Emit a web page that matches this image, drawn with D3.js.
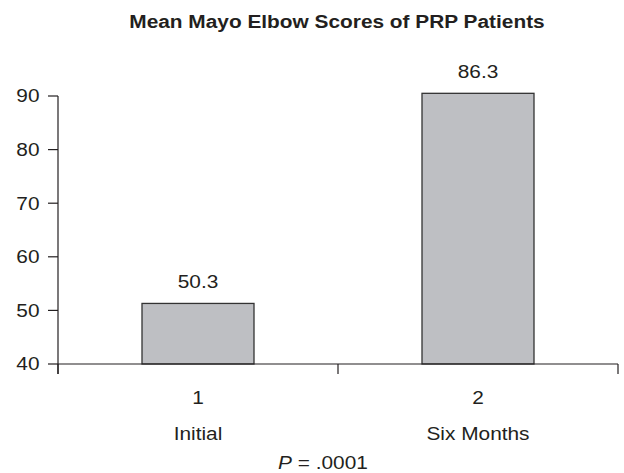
<!DOCTYPE html>
<html><head><meta charset="utf-8">
<script src="https://cdn.jsdelivr.net/npm/d3@7"></script>
<style>body{margin:0;background:#fff;} text{font-family:"Liberation Sans",Arial,sans-serif;fill:#231f20;}</style>
</head><body>
<svg id="c" width="624" height="473"></svg>
<script>
const categories = ["1", "2"];
const categoryNames = ["Initial", "Six Months"];
const values = [51.3, 90.5];
const valueLabels = ["50.3", "86.3"];
const yTicks = [40, 50, 60, 70, 80, 90];
const title = "Mean Mayo Elbow Scores of PRP Patients";

const STRETCH = 1.14;
const FS = "18.3px";
function stretch(sel) {
  sel.each(function () {
    const w = this.getComputedTextLength();
    d3.select(this).attr("textLength", w * STRETCH).attr("lengthAdjust", "spacingAndGlyphs");
  });
}

const svg = d3.select("#c");
const x = d3.scaleBand().domain(categories).range([58, 618]).paddingInner(0.6).paddingOuter(0.3);
const y = d3.scaleLinear().domain([40, 90]).range([364, 96]);
const ink = "#231f20";

svg.append("text").attr("x", 337).attr("y", 27.5).attr("text-anchor", "middle")
  .style("font-weight", "bold").style("font-size", FS).text(title).call(stretch);

// bars
svg.selectAll("rect.bar").data(values).join("rect").attr("class", "bar")
  .attr("x", (d, i) => x(categories[i])).attr("width", x.bandwidth())
  .attr("y", d => y(d)).attr("height", d => y(40) - y(d))
  .attr("fill", "#bebfc3").attr("stroke", "#333").attr("stroke-width", 1.3);

svg.selectAll("text.vl").data(values).join("text").attr("class", "vl")
  .attr("x", (d, i) => x(categories[i]) + x.bandwidth() / 2)
  .attr("y", d => y(d) - 15).attr("text-anchor", "middle")
  .style("font-size", FS).text((d, i) => valueLabels[i]).call(stretch);

// y axis
const g = svg.append("g");
g.append("line").attr("x1", 58).attr("x2", 58).attr("y1", y(90)).attr("y2", 374).attr("stroke", ink).attr("stroke-width", 1.2);
g.selectAll("line.yt").data(yTicks).join("line").attr("class", "yt")
  .attr("x1", 48).attr("x2", 58).attr("y1", d => y(d)).attr("y2", d => y(d)).attr("stroke", ink).attr("stroke-width", 1.2);
g.selectAll("text.yl").data(yTicks).join("text").attr("class", "yl")
  .attr("x", 39.5).attr("y", d => y(d) + 6.3).attr("text-anchor", "end")
  .style("font-size", FS).text(d => d).call(stretch);

// x axis
g.append("line").attr("x1", 58).attr("x2", 618).attr("y1", 364).attr("y2", 364).attr("stroke", ink).attr("stroke-width", 1.2);
const xTickPos = [58, (x("1") + x.bandwidth() / 2 + x("2") + x.bandwidth() / 2) / 2, 618];
g.selectAll("line.xt").data(xTickPos).join("line").attr("class", "xt")
  .attr("x1", d => d).attr("x2", d => d).attr("y1", 364).attr("y2", 374).attr("stroke", ink).attr("stroke-width", 1.2);

g.selectAll("text.xl").data(categories).join("text").attr("class", "xl")
  .attr("x", d => x(d) + x.bandwidth() / 2).attr("y", 404).attr("text-anchor", "middle")
  .style("font-size", FS).text(d => d).call(stretch);
g.selectAll("text.xn").data(categoryNames).join("text").attr("class", "xn")
  .attr("x", (d, i) => x(categories[i]) + x.bandwidth() / 2).attr("y", 440).attr("text-anchor", "middle")
  .style("font-size", FS).text(d => d).call(stretch);

const p = svg.append("text").attr("x", 323).attr("y", 468.5).attr("text-anchor", "middle").style("font-size", FS);
p.append("tspan").style("font-style", "italic").text("P");
p.append("tspan").text(" = .0001");
p.call(stretch);
</script>
</body></html>
